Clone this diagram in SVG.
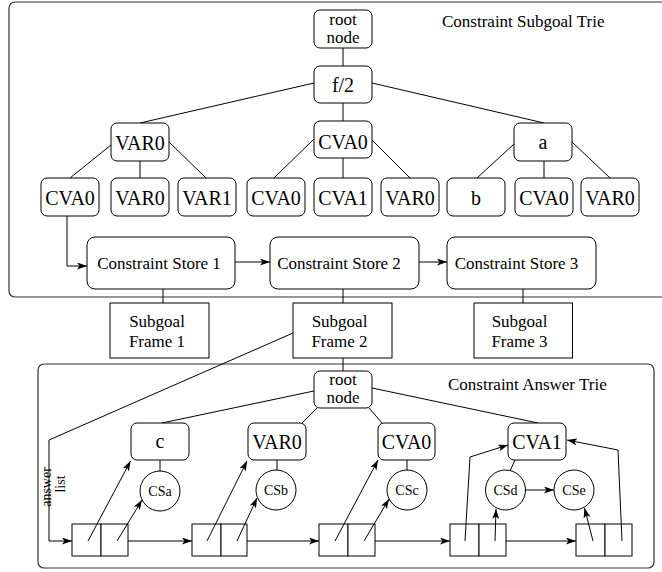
<svg xmlns="http://www.w3.org/2000/svg" width="662" height="572" viewBox="0 0 662 572">
<style>
.fr{fill:none;stroke:#333;stroke-width:1.2}
.n{fill:#fff;stroke:#000;stroke-width:1}
.b{fill:#fff;stroke:#000;stroke-width:1}
.c{fill:none;stroke:#000;stroke-width:1}
text{font-family:"Liberation Serif","Times New Roman",serif;fill:#000;text-anchor:middle}
.big{font-size:20px}
.mid{font-size:17px}
.lab{font-size:17px}
.sm{font-size:14px}
.st{text-anchor:start}
</style>
<defs>
<marker id="ah" markerUnits="userSpaceOnUse" markerWidth="11" markerHeight="7" refX="10" refY="3.5" orient="auto">
<path d="M0,0 L10,3.5 L0,7 L2.5,3.5 z" fill="#000"/>
</marker>
</defs>

<rect class="fr" x="9" y="2" width="700" height="295" rx="6"/>
<text class="lab st" x="442" y="27">Constraint Subgoal Trie</text>
<rect class="fr" x="38" y="364" width="616" height="204" rx="6"/>
<text class="lab st" x="448" y="390">Constraint Answer Trie</text>

<g id="connectors">
<path class="c" d="M343,48V66 M314,83L140,123 M343,103V121 M372,83L544,123"/>
<path class="c" d="M111,145L70,178 M140,161V178 M169,142L206,178"/>
<path class="c" d="M314,139L274,178 M343,158V178 M372,140L410,178"/>
<path class="c" d="M514,144L477,178 M544,161V178 M572,142L610,178"/>
<path class="c" d="M67,216V266H87" marker-end="url(#ah)"/>
<path class="c" d="M235,262H270" marker-end="url(#ah)"/>
<path class="c" d="M419,262H447" marker-end="url(#ah)"/>
<path class="c" d="M163,289V303 M343,289V303 M523,289V303"/>
<path class="c" d="M343,358V371"/>
<path class="c" d="M293,333L49,440V541H72" marker-end="url(#ah)"/>
<path class="c" d="M314,391L162,423 M317,408L302,423 M369,408L382,423 M372,388L538,423"/>
<path class="c" d="M160,460V471 M277,460V470 M407,460V470 M515,460L510,471"/>
<path class="c" d="M525.5,490H554" marker-end="url(#ah)"/>
<path class="c" d="M128,541H192" marker-end="url(#ah)"/>
<path class="c" d="M247,541H319" marker-end="url(#ah)"/>
<path class="c" d="M375,541H450" marker-end="url(#ah)"/>
<path class="c" d="M506,541H576" marker-end="url(#ah)"/>
</g>

<g id="root1"><rect class="n" x="314" y="10" width="58" height="38" rx="6"/><text class="mid" x="343" y="25">root</text><text class="mid" x="343" y="43">node</text></g>
<g id="f2"><rect class="n" x="314" y="66" width="58" height="37" rx="6"/><text class="big" x="343" y="92">f/2</text></g>
<g id="l2var0"><rect class="n" x="111" y="123" width="58" height="38" rx="6"/><text class="big" x="140" y="150">VAR0</text></g>
<g id="l2cva0"><rect class="n" x="314" y="121" width="58" height="37" rx="6"/><text class="big" x="343" y="149">CVA0</text></g>
<g id="l2a"><rect class="n" x="514" y="123" width="58" height="38" rx="6"/><text class="big" x="543" y="149">a</text></g>

<g id="l3n1"><rect class="n" x="41" y="178" width="58" height="38" rx="6"/><text class="big" x="70" y="205">CVA0</text></g>
<g id="l3n2"><rect class="n" x="111" y="178" width="58" height="38" rx="6"/><text class="big" x="140" y="205">VAR0</text></g>
<g id="l3n3"><rect class="n" x="178" y="178" width="58" height="38" rx="6"/><text class="big" x="207" y="205">VAR1</text></g>
<g id="l3n4"><rect class="n" x="247" y="178" width="58" height="38" rx="6"/><text class="big" x="276" y="205">CVA0</text></g>
<g id="l3n5"><rect class="n" x="314" y="178" width="58" height="38" rx="6"/><text class="big" x="343" y="205">CVA1</text></g>
<g id="l3n6"><rect class="n" x="381" y="178" width="58" height="38" rx="6"/><text class="big" x="410" y="205">VAR0</text></g>
<g id="l3n7"><rect class="n" x="447" y="178" width="58" height="38" rx="6"/><text class="big" x="476" y="205">b</text></g>
<g id="l3n8"><rect class="n" x="515" y="178" width="58" height="38" rx="6"/><text class="big" x="544" y="205">CVA0</text></g>
<g id="l3n9"><rect class="n" x="581" y="178" width="58" height="38" rx="6"/><text class="big" x="610" y="205">VAR0</text></g>

<g id="cs1"><rect class="n" x="87" y="237" width="148" height="52" rx="8"/><text class="lab" x="159" y="269">Constraint Store 1</text></g>
<g id="cs2"><rect class="n" x="270" y="237" width="149" height="52" rx="8"/><text class="lab" x="339" y="269">Constraint Store 2</text></g>
<g id="cs3"><rect class="n" x="447" y="237" width="149" height="52" rx="8"/><text class="lab" x="516.5" y="269">Constraint Store 3</text></g>

<g id="sf1"><rect class="b" x="110" y="303" width="99" height="55"/><text class="lab" x="157" y="327">Subgoal</text><text class="lab" x="157" y="347">Frame 1</text></g>
<g id="sf2"><rect class="b" x="293" y="303" width="99" height="55"/><text class="lab" x="339.5" y="327">Subgoal</text><text class="lab" x="339.5" y="347">Frame 2</text></g>
<g id="sf3"><rect class="b" x="474" y="303" width="98.5" height="55"/><text class="lab" x="519.5" y="327">Subgoal</text><text class="lab" x="519.5" y="347">Frame 3</text></g>

<g id="root2"><rect class="n" x="314" y="371" width="58" height="37" rx="6"/><text class="mid" x="343" y="385">root</text><text class="mid" x="343" y="403">node</text></g>
<g id="ac"><rect class="n" x="131" y="423" width="58" height="37" rx="6"/><text class="big" x="160" y="448">c</text></g>
<g id="avar0"><rect class="n" x="248" y="423" width="58" height="37" rx="6"/><text class="big" x="277" y="449">VAR0</text></g>
<g id="acva0"><rect class="n" x="378" y="423" width="57" height="37" rx="6"/><text class="big" x="406.5" y="449">CVA0</text></g>
<g id="acva1"><rect class="n" x="508" y="423" width="58" height="37" rx="6"/><text class="big" x="537" y="449">CVA1</text></g>

<g id="csa"><circle class="n" cx="160" cy="491" r="20"/><text class="sm" x="160" y="496">CSa</text></g>
<g id="csb"><circle class="n" cx="276" cy="490" r="20"/><text class="sm" x="276" y="495">CSb</text></g>
<g id="csc"><circle class="n" cx="407" cy="490" r="20"/><text class="sm" x="407" y="495">CSc</text></g>
<g id="csd"><circle class="n" cx="505.5" cy="490" r="20"/><text class="sm" x="505.5" y="495">CSd</text></g>
<g id="cse"><circle class="n" cx="574" cy="490" r="20"/><text class="sm" x="574" y="495">CSe</text></g>

<g id="list1"><rect class="b" x="72" y="524" width="29" height="32"/><rect class="b" x="101" y="524" width="27" height="32"/></g>
<g id="list2"><rect class="b" x="192" y="524" width="29" height="32"/><rect class="b" x="221" y="524" width="26" height="32"/></g>
<g id="list3"><rect class="b" x="319" y="524" width="29" height="32"/><rect class="b" x="348" y="524" width="27" height="32"/></g>
<g id="list4"><rect class="b" x="450" y="524" width="29" height="32"/><rect class="b" x="479" y="524" width="27" height="32"/></g>
<g id="list5"><rect class="b" x="576" y="524" width="29" height="32"/><rect class="b" x="605" y="524" width="27" height="32"/></g>

<g id="pointers">
<path class="c" d="M88,541L130.5,461" marker-end="url(#ah)"/>
<path class="c" d="M117,541L142,500" marker-end="url(#ah)"/>
<path class="c" d="M207,541L247,461" marker-end="url(#ah)"/>
<path class="c" d="M237,541L257,498" marker-end="url(#ah)"/>
<path class="c" d="M335,541L378,460" marker-end="url(#ah)"/>
<path class="c" d="M364,541L389,499" marker-end="url(#ah)"/>
<path class="c" d="M465,541L470,457L508,445" marker-end="url(#ah)"/>
<path class="c" d="M495,541L496,509" marker-end="url(#ah)"/>
<path class="c" d="M593,541L584.5,508" marker-end="url(#ah)"/>
<path class="c" d="M622,541L618,450L567,440" marker-end="url(#ah)"/>
</g>

<g id="answerlist">
<text class="sm" transform="translate(51,487) rotate(-90)">answer</text>
<text class="sm" transform="translate(65,484) rotate(-90)">list</text>
</g>
</svg>
